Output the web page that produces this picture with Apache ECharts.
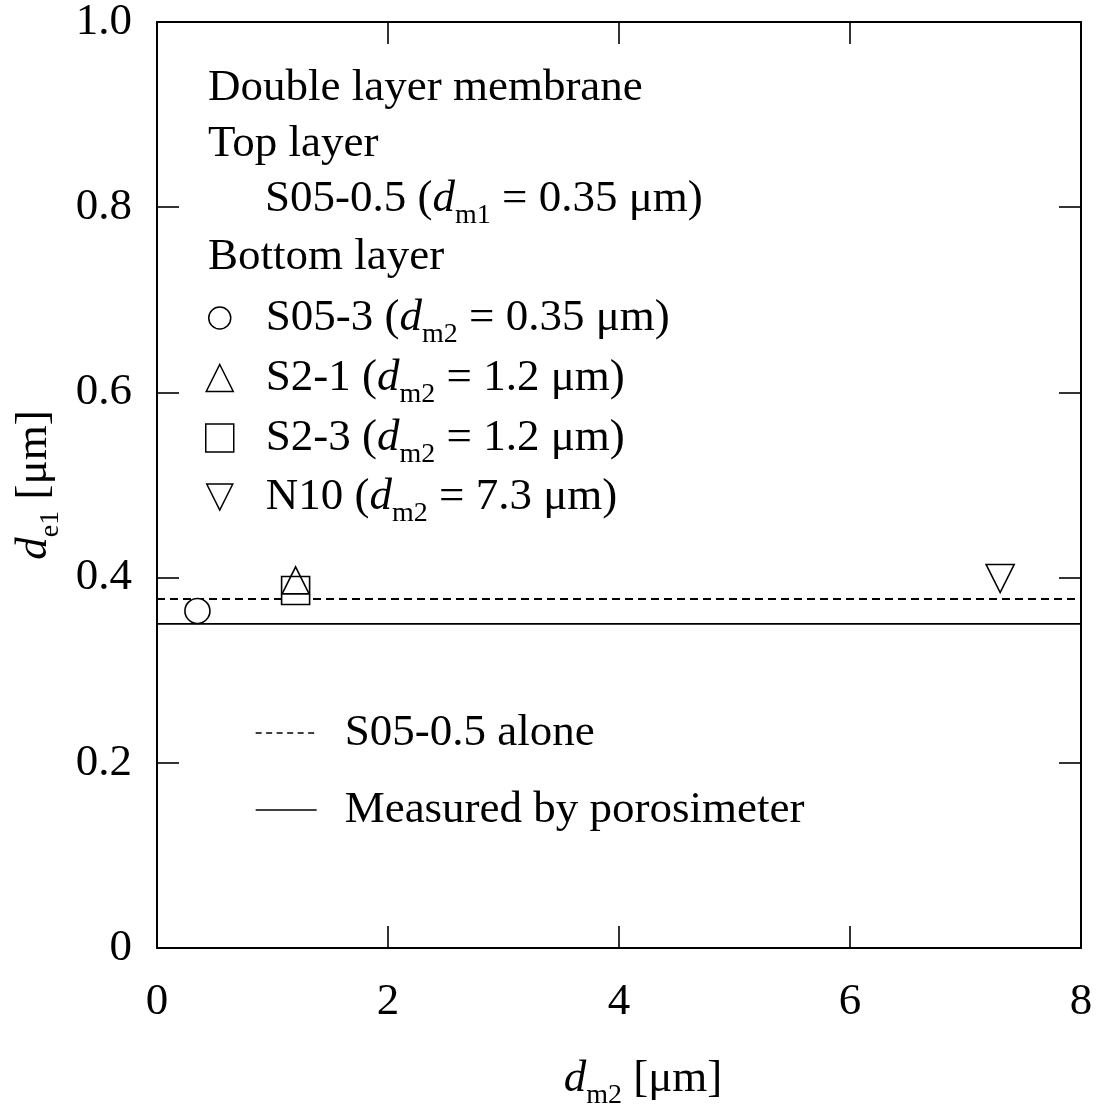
<!DOCTYPE html>
<html>
<head>
<meta charset="utf-8">
<title>d_e1 vs d_m2</title>
<script src="https://cdn.jsdelivr.net/npm/echarts@6/dist/echarts.min.js"></script>
<style>
  html, body { margin: 0; padding: 0; background: #fff; }
  #chart { width: 1097px; height: 1106px; }
</style>
</head>
<body>
<div id="chart"></div>
<script>
// Bottom-layer membranes: pore size d_m2 [μm] and resulting effective pore size d_e1 [μm]
const sampleNames = ['S05-3', 'S2-1', 'S2-3', 'N10'];
const sampleDm2 = [0.35, 1.2, 1.2, 7.3];
const sampleDe1 = [0.364, 0.397, 0.386, 0.399];

// Top layer
const topLayerName = 'S05-0.5';
const topLayerDm1 = 0.35;

// Horizontal reference levels
const referenceNames = ['S05-0.5 alone', 'Measured by porosimeter'];
const referenceValues = [0.377, 0.35];

// Axis ticks
const xTicks = [0, 2, 4, 6, 8];
const xTickLabels = ['0', '2', '4', '6', '8'];
const yTicks = [0, 0.2, 0.4, 0.6, 0.8, 1.0];
const yTickLabels = ['0', '0.2', '0.4', '0.6', '0.8', '1.0'];

// ---- styling ----
const SERIF = '"Liberation Serif", "Times New Roman", serif';
const FS = 45;
const rich = {
  n: { fontFamily: SERIF, fontSize: FS, lineHeight: FS, color: '#000' },
  i: { fontFamily: SERIF, fontSize: FS, lineHeight: FS, fontStyle: 'italic', color: '#000' },
  // subscript: small box pinned to the bottom of the line
  s: { fontFamily: SERIF, fontSize: 28, lineHeight: 12, height: 12, verticalAlign: 'bottom', color: '#000' }
};
const sub = (pre, idx, post) => `{n|${pre}}{i|d}{s|${idx}}{n|${post}}`;

const sampleSymbols = ['circle', 'triangle', 'rect', 'path://M0,0 L10,0 L5,10 Z'];
const sampleSizes = [25, 27, 28, 28];
const sampleFill = ['#fff', 'rgba(0,0,0,0)', '#fff', '#fff'];
const drawOrder = [0, 2, 1, 3];
const legendIcon = [22, 27, 28, 26];
const legendRowY = [318, 378, 438, 497];
const referenceDash = [[8, 5], 'solid'];
const referenceWidth = [2, 1.6];
const legendLineDash = [[6, 4.5], 'solid'];
const legendLineY = [733, 810];

const xMin = xTicks[0], xMax = xTicks[xTicks.length - 1];
const labelOf = (ticks, labels) => v => {
  const k = ticks.findIndex(t => Math.abs(t - v) < 1e-9);
  return k < 0 ? '' : labels[k];
};

const chart = echarts.init(document.getElementById('chart'), null, { renderer: 'canvas' });

const series = [];
referenceNames.forEach((name, k) => {
  series.push({
    name,
    type: 'line',
    data: [[xMin, referenceValues[k]], [xMax, referenceValues[k]]],
    symbol: 'none',
    silent: true,
    z: 2,
    itemStyle: { color: '#000' },
    lineStyle: { color: '#000', width: referenceWidth[k], type: referenceDash[k] }
  });
});
drawOrder.forEach((k, order) => {
  series.push({
    name: sampleNames[k],
    type: 'scatter',
    data: [[sampleDm2[k], sampleDe1[k]]],
    symbol: sampleSymbols[k],
    symbolSize: sampleSizes[k],
    z: 3 + order,
    itemStyle: { color: sampleFill[k], borderColor: '#000', borderWidth: 1.6, opacity: 1 }
  });
});

const legends = [];
sampleNames.forEach((name, k) => {
  const s = legendIcon[k];
  legends.push({
    data: [name],
    orient: 'vertical',
    left: 219 - s / 2,
    top: legendRowY[k] - FS / 2,
    padding: 0,
    itemGap: 0,
    itemWidth: s,
    itemHeight: s,
    selectedMode: false,
    itemStyle: { borderColor: '#000', borderWidth: 1.5 },
    formatter: () => sub(`${name} (`, 'm2', ` = ${sampleDm2[k]} μm)`),
    textStyle: { rich, padding: [0, 0, 0, 265 - (219 + s / 2 + 5)] }
  });
});
referenceNames.forEach((name, k) => {
  legends.push({
    data: [name],
    orient: 'vertical',
    left: 255,
    top: legendLineY[k] - FS / 2,
    padding: 0,
    itemGap: 0,
    itemWidth: 61,
    itemHeight: 14,
    selectedMode: false,
    itemStyle: { color: 'rgba(0,0,0,0)', borderColor: 'rgba(0,0,0,0)', borderWidth: 0 },
    lineStyle: { color: '#000', width: 1.3, type: legendLineDash[k] },
    formatter: () => `{n|${name}}`,
    textStyle: { rich, padding: [0, 0, 0, 344 - (255 + 61 + 5)] }
  });
});

const headerLines = [
  { x: 208, y: 88, text: '{n|Double layer membrane}' },
  { x: 208, y: 144, text: '{n|Top layer}' },
  { x: 265, y: 199, text: sub(`${topLayerName} (`, 'm1', ` = ${topLayerDm1} μm)`) },
  { x: 208, y: 257, text: '{n|Bottom layer}' }
];

const axisCommon = {
  type: 'value',
  axisLine: { show: true, onZero: false, lineStyle: { color: '#000', width: 2 } },
  axisTick: { show: true, inside: true, length: 22, lineStyle: { color: '#000', width: 1.6 } },
  splitLine: { show: false },
  minorTick: { show: false }
};

chart.setOption({
  backgroundColor: '#fff',
  animation: false,
  grid: { left: 157, right: 16, top: 22, bottom: 158, containLabel: false, outerBoundsMode: 'none' },
  xAxis: [
    Object.assign({}, axisCommon, {
      position: 'bottom',
      min: xMin, max: xMax, interval: xTicks[1] - xTicks[0],
      axisLabel: {
        margin: 32, formatter: labelOf(xTicks, xTickLabels),
        fontFamily: SERIF, fontSize: FS, color: '#000'
      },
      name: sub('', 'm2', ' [μm]'),
      nameLocation: 'middle',
      nameGap: 109,
      nameTextStyle: { rich, padding: [0, 0, 0, 48] }
    }),
    Object.assign({}, axisCommon, {
      position: 'top',
      min: xMin, max: xMax, interval: xTicks[1] - xTicks[0],
      axisLabel: { show: false }
    })
  ],
  yAxis: [
    Object.assign({}, axisCommon, {
      position: 'left',
      min: yTicks[0], max: yTicks[yTicks.length - 1], interval: 0.2,
      axisLabel: {
        margin: 25, formatter: labelOf(yTicks, yTickLabels),
        fontFamily: SERIF, fontSize: FS, color: '#000'
      },
      name: sub('', 'e1', ' [μm]'),
      nameLocation: 'middle',
      nameRotate: 90,
      nameGap: 100,
      nameTextStyle: { rich }
    }),
    Object.assign({}, axisCommon, {
      position: 'right',
      min: yTicks[0], max: yTicks[yTicks.length - 1], interval: 0.2,
      axisLabel: { show: false }
    })
  ],
  legend: legends,
  graphic: headerLines.map(h => ({
    type: 'text',
    x: h.x,
    y: h.y,
    silent: true,
    style: { text: h.text, rich, align: 'left', verticalAlign: 'middle', fill: '#000' }
  })),
  series
});
</script>
</body>
</html>
